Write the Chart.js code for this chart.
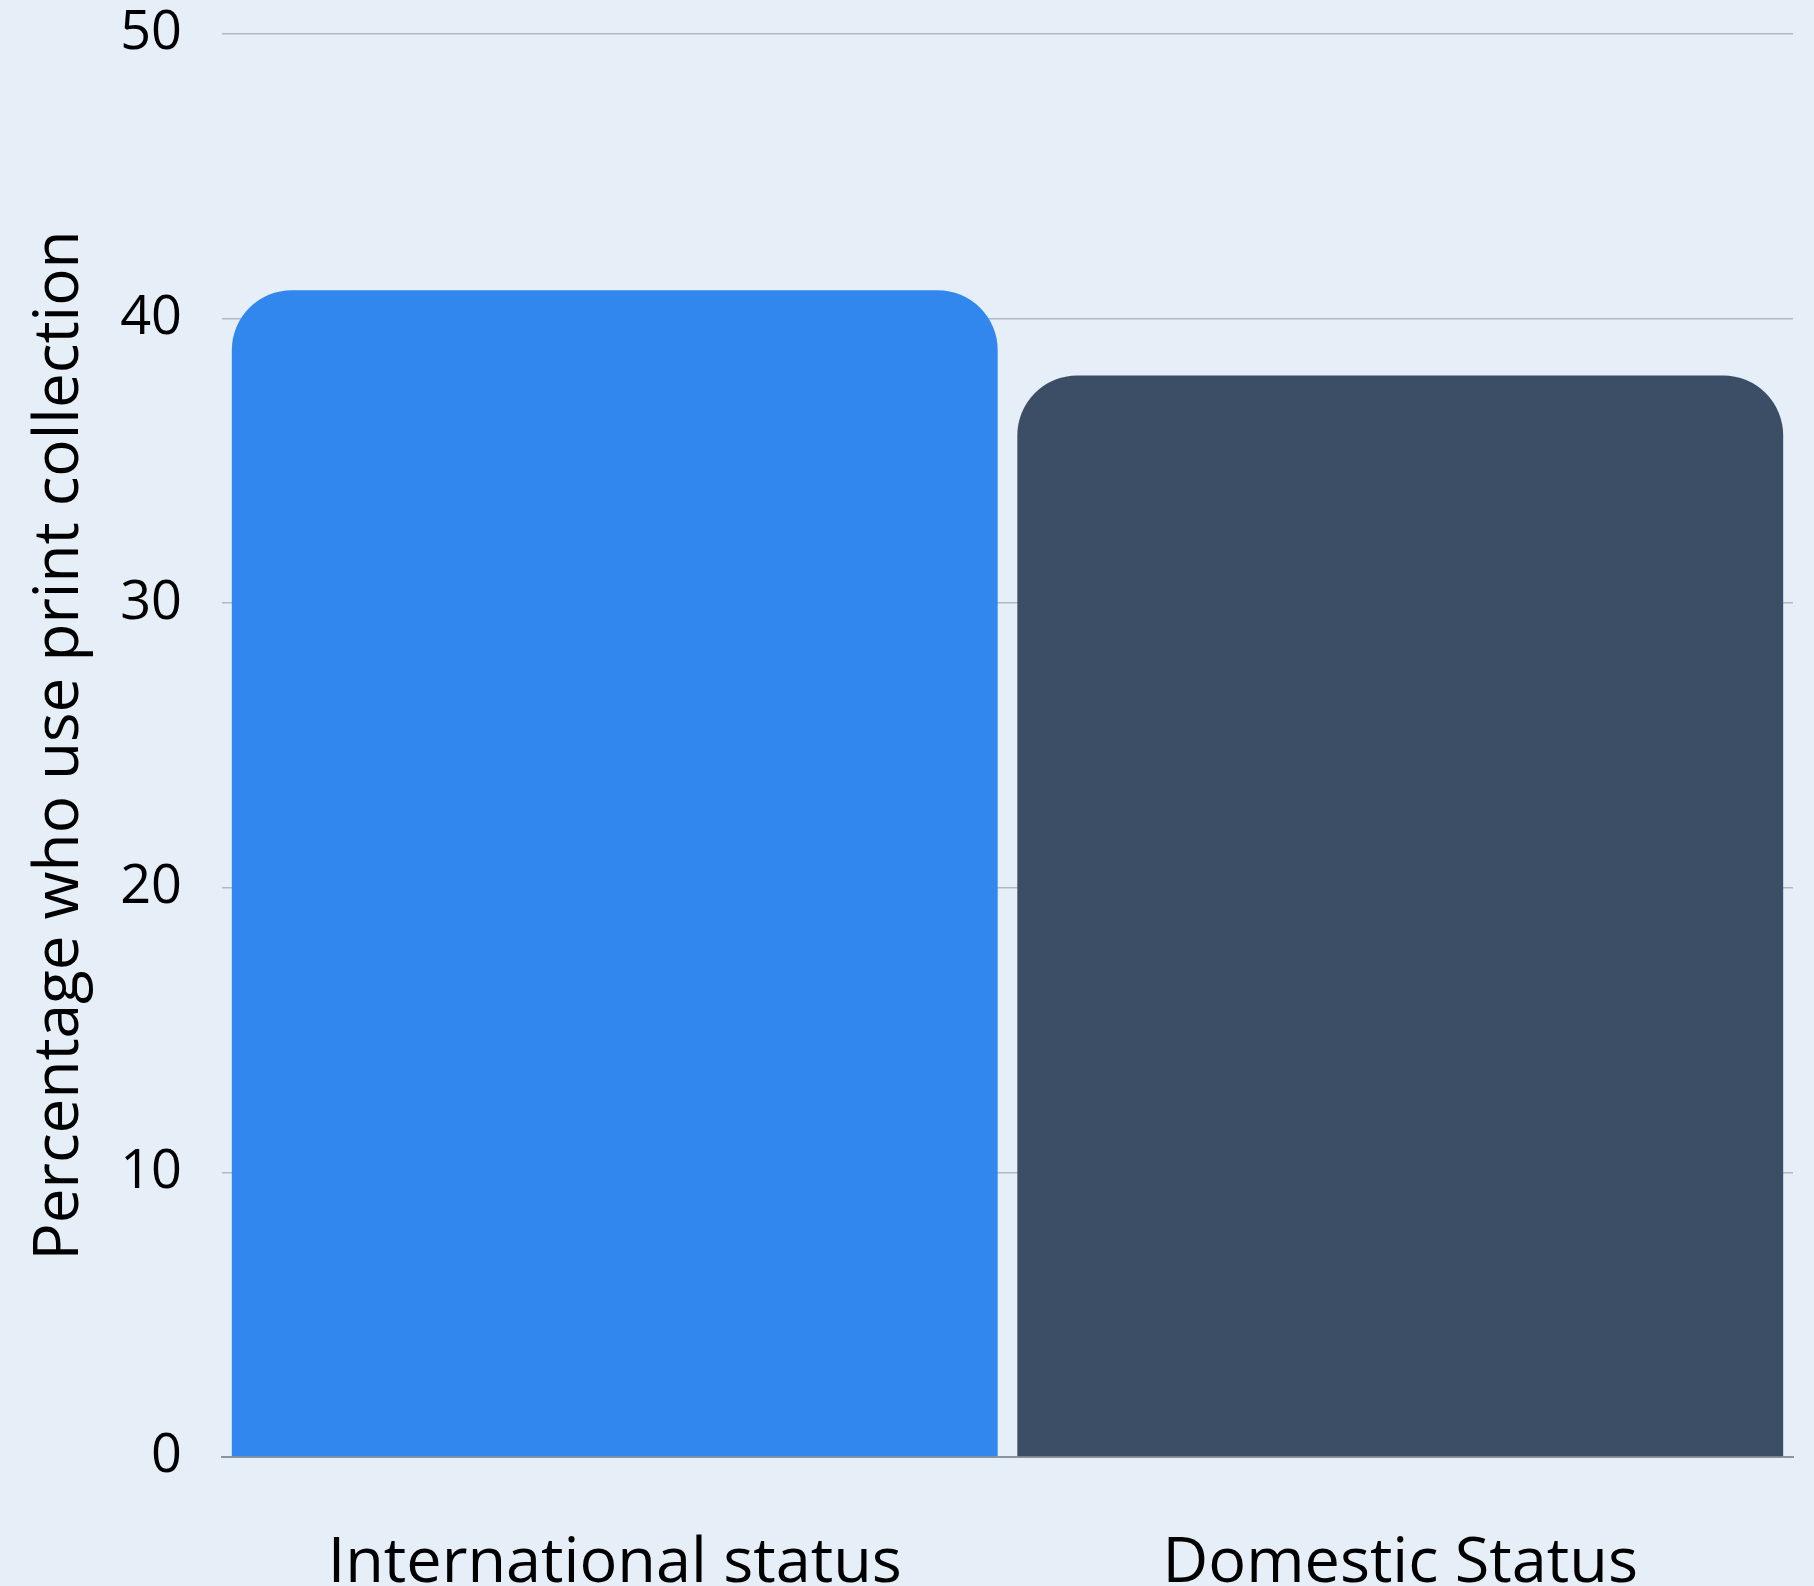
<!DOCTYPE html>
<html>
<head>
<meta charset="utf-8">
<script src="https://cdn.jsdelivr.net/npm/chart.js@4"></script>
<style>
  html, body { margin: 0; padding: 0; background: #e6eef8; }
  #wrap { width: 1814px; height: 1586px; }
</style>
</head>
<body>
<div id="wrap"><canvas id="myBarChart"></canvas></div>
<script>
var categories = ["International status", "Domestic Status"];
var usePrint = [41, 38];
var barColors = ["#3187ee", "#3c4e66"];
var yTicks = [0, 10, 20, 30, 40, 50];

var font = "'Open Sans', sans-serif";

new Chart(document.getElementById("myBarChart"), {
  type: 'bar',
  data: {
    labels: categories,
    datasets: [{
      label: "Percentage who use print collection",
      data: usePrint,
      backgroundColor: barColors,
      borderRadius: 60, // rounded top corners
      borderSkipped: 'start',
      barPercentage: 1,
      categoryPercentage: 0.975
    }]
  },
  options: {
    responsive: true,
    maintainAspectRatio: false,
    animation: false,
    layout: { padding: { top: 0, right: 21, left: 0, bottom: 0 } },
    plugins: {
      legend: { display: false },
      tooltip: { enabled: false }
    },
    scales: {
      x: {
        grid: { display: false, drawTicks: false },
        border: { display: true, color: '#8e949c', width: 2 },
        ticks: {
          color: '#000',
          padding: 69,
          font: { family: font, size: 63 }
        },
        afterFit: function (scale) {
          scale.height = 129; // keep labels low like the original
        }
      },
      y: {
        min: 0,
        max: 50,
        afterBuildTicks: function (axis) {
          axis.ticks = yTicks.map(function (v) { return { value: v }; });
        },
        grid: { color: '#b3b8be', lineWidth: 1.5, drawTicks: false },
        border: { display: false },
        ticks: {
          color: '#000',
          padding: 40,
          font: { family: font, size: 54 }
        },
        title: {
          display: true,
          text: "Percentage who use print collection",
          color: '#000',
          padding: { top: 23, bottom: 0 },
          font: { family: font, size: 62 }
        },
        afterFit: function (scale) {
          scale.width = 222;
          scale.paddingTop = 34;
          scale.paddingBottom = 34;
        }
      }
    }
  }
});
</script>
</body>
</html>
